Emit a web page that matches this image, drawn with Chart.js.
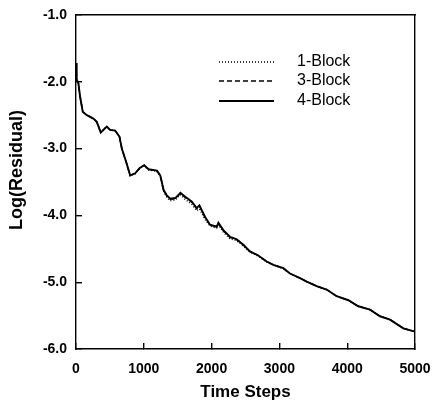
<!DOCTYPE html>
<html>
<head>
<meta charset="utf-8">
<script src="https://cdn.jsdelivr.net/npm/chart.js@4.4.1/dist/chart.umd.min.js"></script>
<style>
  html, body { margin: 0; padding: 0; background: #fff; }
</style>
</head>
<body>
<canvas id="chart" width="434" height="405"></canvas>
<script>
const seriesNames = ["1-Block", "3-Block", "4-Block"];

const steps = [0, 10, 35, 60, 100, 160, 256, 306, 365, 454, 503, 577, 641, 676, 740,
  799, 873, 940, 1006, 1070, 1193, 1243, 1292, 1340, 1391, 1465, 1540, 1610, 1706, 1780,
  1820, 1903, 1976, 2075, 2100, 2173, 2271, 2370, 2468, 2566, 2689, 2812, 2910, 3058, 3156,
  3304, 3402, 3550, 3697, 3845, 4017, 4164, 4336, 4484, 4631, 4828, 5000];

const block1 = [-1.72, -1.97, -2.02, -2.22, -2.45, -2.50, -2.55, -2.60, -2.76, -2.67, -2.72, -2.73, -2.82, -3.00, -3.21,
  -3.41, -3.38, -3.30, -3.26, -3.32, -3.34, -3.42, -3.64, -3.73, -3.78, -3.77, -3.69, -3.76, -3.83, -3.93,
  -3.90, -4.06, -4.16, -4.19, -4.14, -4.25, -4.35, -4.38, -4.46, -4.55, -4.61, -4.70, -4.74, -4.80, -4.87,
  -4.94, -4.99, -5.06, -5.11, -5.21, -5.27, -5.36, -5.41, -5.51, -5.56, -5.69, -5.74];

const block3 = [-1.72, -1.97, -2.02, -2.22, -2.45, -2.50, -2.55, -2.60, -2.76, -2.67, -2.72, -2.73, -2.82, -3.00, -3.20,
  -3.40, -3.37, -3.29, -3.25, -3.31, -3.33, -3.40, -3.62, -3.71, -3.76, -3.75, -3.67, -3.73, -3.80, -3.90,
  -3.86, -4.03, -4.14, -4.17, -4.12, -4.23, -4.33, -4.36, -4.44, -4.54, -4.60, -4.69, -4.74, -4.79, -4.87,
  -4.94, -4.99, -5.06, -5.11, -5.21, -5.27, -5.36, -5.41, -5.51, -5.56, -5.69, -5.74];

const block4 = [-1.72, -1.97, -2.02, -2.22, -2.45, -2.50, -2.55, -2.60, -2.76, -2.67, -2.72, -2.73, -2.82, -3.00, -3.20,
  -3.40, -3.37, -3.29, -3.25, -3.31, -3.33, -3.40, -3.62, -3.70, -3.75, -3.74, -3.66, -3.72, -3.79, -3.89,
  -3.85, -4.02, -4.14, -4.17, -4.11, -4.22, -4.32, -4.36, -4.44, -4.54, -4.60, -4.69, -4.74, -4.79, -4.87,
  -4.94, -4.99, -5.06, -5.11, -5.21, -5.27, -5.36, -5.41, -5.51, -5.56, -5.69, -5.74];

const xTicks = [0, 1000, 2000, 3000, 4000, 5000];
const yTicks = [-6.0, -5.0, -4.0, -3.0, -2.0, -1.0];

const FONT = "'Liberation Sans', Arial, sans-serif";
const toPoints = (vals) => vals.map((v, i) => ({ x: steps[i], y: v }));

// y title and the in-plot legend
const extrasPlugin = {
  id: "extras",
  afterDraw(chart) {
    const ctx = chart.ctx;
    ctx.save();
    ctx.fillStyle = "#000";
    ctx.strokeStyle = "#000";
    ctx.save();
    ctx.translate(17, 170);
    ctx.rotate(-Math.PI / 2);
    ctx.font = "bold 18px " + FONT;
    ctx.textAlign = "center";
    ctx.textBaseline = "middle";
    ctx.fillText("Log(Residual)", 0, 0);
    ctx.restore();

    const rows = [62, 81, 101];
    chart.data.datasets.forEach((ds, i) => {
      ctx.beginPath();
      ctx.setLineDash(ds.borderDash || []);
      ctx.lineWidth = ds.borderWidth;
      ctx.moveTo(219, rows[i]);
      ctx.lineTo(274, rows[i]);
      ctx.stroke();
      ctx.setLineDash([]);
      ctx.font = "16px " + FONT;
      ctx.textAlign = "left";
      ctx.textBaseline = "middle";
      ctx.fillText(ds.label, 297, rows[i]);
    });
    ctx.restore();
  },
};

const lineStyle = [[1, 2], [5, 3], []];
const series = [block1, block3, block4];

const frameBorder = { display: true, color: "#000", width: 1.4 };
const inwardTicks = { display: true, drawOnChartArea: false, drawTicks: true, tickLength: -6, color: "#000", lineWidth: 1.4 };
const noPad = (s) => { s.paddingLeft = 0; s.paddingRight = 0; s.paddingTop = 0; s.paddingBottom = 0; };

new Chart(document.getElementById("chart"), {
  type: "line",
  data: {
    datasets: series.map((vals, i) => ({
      label: seriesNames[i],
      data: toPoints(vals),
      borderColor: "#000",
      borderWidth: i === 2 ? 1.9 : 1.4,
      borderDash: lineStyle[i],
      pointRadius: 0,
      tension: 0,
      fill: false,
    })),
  },
  options: {
    responsive: false,
    animation: false,
    layout: { padding: { top: 15, right: 19, left: 0, bottom: 0 } },
    plugins: { legend: { display: false }, tooltip: { enabled: false } },
    scales: {
      x: {
        type: "linear",
        min: 0,
        max: 5000,
        afterFit: (s) => { s.height = 56; noPad(s); },
        afterBuildTicks: (s) => { s.ticks = xTicks.map((v) => ({ value: v })); },
        grid: inwardTicks,
        border: frameBorder,
        ticks: {
          color: "#000",
          padding: 18,
          maxRotation: 0,
          callback: (v) => String(v),
          font: { family: FONT, size: 14, weight: "bold" },
        },
        title: {
          display: true,
          text: "Time Steps",
          color: "#000",
          padding: { top: 0, bottom: 2 },
          font: { family: FONT, size: 17, weight: "bold" },
        },
      },
      y: {
        type: "linear",
        min: -6,
        max: -1,
        afterFit: (s) => { s.width = 76; noPad(s); },
        afterBuildTicks: (s) => { s.ticks = yTicks.map((v) => ({ value: v })); },
        grid: inwardTicks,
        border: frameBorder,
        ticks: {
          color: "#000",
          padding: 15,
          callback: (v) => v.toFixed(1),
          font: { family: FONT, size: 14, weight: "bold" },
        },
      },
      x2: {
        type: "linear",
        position: "top",
        min: 0,
        max: 5000,
        afterFit: (s) => { s.height = 0; noPad(s); },
        grid: { display: false, drawTicks: false },
        border: frameBorder,
        ticks: { display: false },
      },
      y2: {
        type: "linear",
        position: "right",
        min: -6,
        max: -1,
        afterFit: (s) => { s.width = 0; noPad(s); },
        grid: { display: false, drawTicks: false },
        border: frameBorder,
        ticks: { display: false },
      },
    },
  },
  plugins: [extrasPlugin],
});
</script>
</body>
</html>
